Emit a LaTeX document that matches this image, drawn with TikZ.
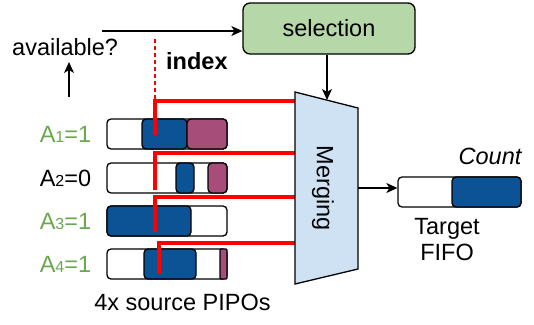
\documentclass[tikz,border=0pt]{standalone}
\usepackage{fontspec}
\setmainfont{Liberation Sans}
\usetikzlibrary{arrows.meta, positioning}
\definecolor{selgreen}{HTML}{B6D7A8}
\definecolor{mergeblue}{HTML}{CFE2F3}
\definecolor{fifoblue}{HTML}{0B5394}
\definecolor{fifopurple}{HTML}{A64D79}
\definecolor{validgreen}{HTML}{6AA84F}
\newcommand{\bigfont}{\fontsize{23.5}{26}\selectfont}
\newcommand{\sub}[1]{{\fontsize{16}{16}\selectfont #1}}
\tikzset{
  fifo/.style = {draw, line width=1.3pt, rounded corners=4pt, fill=white, minimum width=120pt, minimum height=30pt, inner sep=0},
  seg/.style = {draw, line width=1.3pt, rounded corners=4pt},
  red wire/.style = {draw=red, line width=3.5pt},
  lab/.style = {font=\bigfont, inner sep=0},
  conn/.style = {->, line width=1.2pt}
}
\begin{document}
\begin{tikzpicture}[x=1pt, y=-1pt, >={Stealth[length=11pt, width=10pt, inset=3pt]}]
\useasboundingbox (0,0) rectangle (534,324);
\node[lab, draw, line width=1.3pt, rounded corners=7pt, fill=selgreen, minimum width=172pt, minimum height=51pt] (sel) at (329,28.5) {selection};
\node[lab, anchor=west] (avail) at (12,47) {available?};
\coordinate (req) at (102,31);
\draw[conn] (req) -- (req -| sel.west);
\coordinate (avail in) at (69,97);
\draw[conn] (avail in) -- (avail in |- 0,62);
\coordinate (idx top) at (155,39);
\coordinate (idx bot) at (155,100);
\draw[draw=red, line width=1.2pt, dash pattern=on 4pt off 3pt] (idx top) -- (idx bot);
\node[lab, anchor=west, font=\bigfont\bfseries] (index) at (166,61) {index};
\foreach \i/\y in {1/134, 2/178, 3/221, 4/264}
  \node[fifo] (src\i) at (167,\y) {};
\draw[seg, fill=fifoblue] (142,119) rectangle (187,149);
\draw[seg, fill=fifopurple] (187,119) rectangle (227,149);
\draw[seg, fill=fifoblue] (176,163) rectangle (194,193);
\draw[seg, fill=fifopurple] (208,163) rectangle (227,193);
\draw[seg, fill=fifoblue] (107,206) rectangle (191,236);
\draw[seg, fill=fifoblue] (144,249) rectangle (196,279);
\draw[seg, fill=fifopurple, rounded corners=1pt] (220,249) rectangle (227,279);
\node[lab, text=validgreen, left=15pt of src1] (a1) {A\sub{1}=1};
\node[lab, left=15pt of src2] (a2) {A\sub{2}=0};
\node[lab, text=validgreen, left=15pt of src3] (a3) {A\sub{3}=1};
\node[lab, text=validgreen, left=15pt of src4] (a4) {A\sub{4}=1};
\node[lab] (pipos) at (182.5,302) {4x source PIPOs};
\foreach \i/\x/\ya/\yb in {1/155/135/101, 2/155/190/153, 3/155/232/197, 4/159/274/243}{
  \coordinate (tap\i) at (\x,\ya);
  \coordinate (in\i) at (295,\yb);
  \draw[red wire] (tap\i) |- (in\i);
}
\coordinate (m1) at (295,92);
\coordinate (m2) at (358,108);
\coordinate (m3) at (358,269);
\coordinate (m4) at (295,284);
\draw[fill=mergeblue, line width=1.3pt] (m1) -- (m2) -- (m3) -- (m4) -- cycle;
\node[lab, rotate=-90] (merge) at (323,188) {Merging};
\coordinate (mtop) at (327,100);
\draw[conn] (sel.south -| mtop) -- (mtop);
\node[fifo, minimum width=123pt] (target) at (459.5,192) {};
\draw[seg, fill=fifoblue] (452,177) rectangle (521,207);
\coordinate (mout) at (358,188);
\draw[conn] (mout) -- (mout -| target.west);
\node[lab, font=\bigfont\itshape] (count) at (490,156) {Count};
\node[lab, align=center] (tname) at (447,240) {Target\\FIFO};
\end{tikzpicture}
\end{document}
